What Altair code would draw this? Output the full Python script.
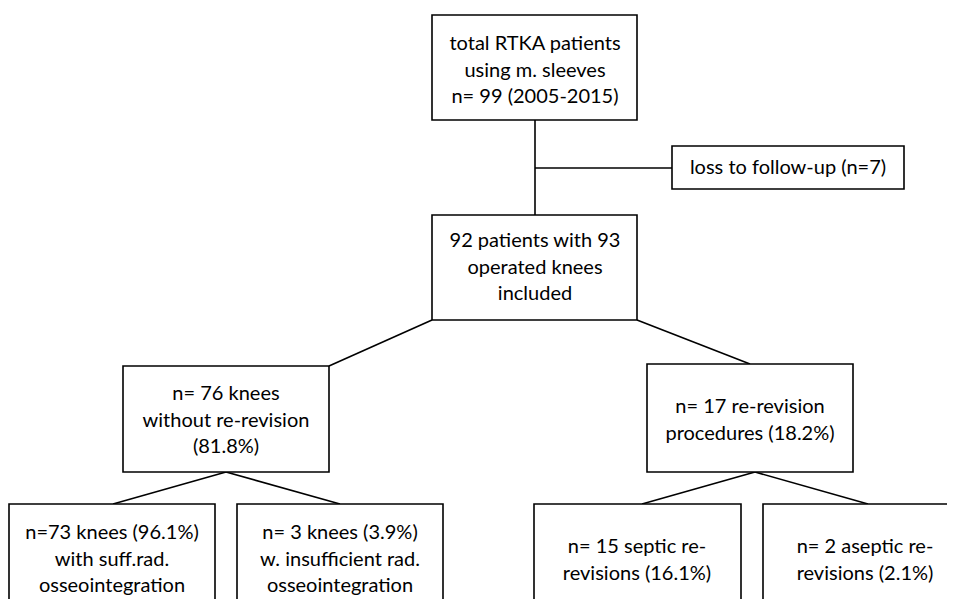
import altair as alt
import pandas as pd

# Box texts
box_labels = [
    "total RTKA patients\nusing m. sleeves\nn= 99 (2005-2015)",
    "92 patients with 93\noperated knees\nincluded",
    "loss to follow-up (n=7)",
    "n= 76 knees\nwithout re-revision\n(81.8%)",
    "n= 17 re-revision\nprocedures (18.2%)",
    "n=73 knees (96.1%)\nwith suff.rad.\nosseointegration",
    "n= 3 knees (3.9%)\nw. insufficient rad.\nosseointegration",
    "n= 15 septic re-\nrevisions (16.1%)",
    "n= 2 aseptic re-\nrevisions (2.1%)",
]

# Layout (pixel coordinates of the page)
box_x1 = [432, 432, 672, 123, 647, 9, 237, 534, 763]
box_y1 = [15, 215, 146, 366, 364, 504, 504, 504, 504]
box_x2 = [637, 637, 904, 329, 853, 215, 443, 741, 1000]
box_y2 = [120, 320, 189, 472, 472, 640, 640, 640, 640]
text_x = [535, 535, 788, 226, 750, 112, 340, 637, 865]
text_y = [44, 241, 168, 394, 407, 533, 533, 547, 547]  # first line

line_x1 = [535, 535, 432, 637, 226, 226, 755, 755]
line_y1 = [120, 168, 320, 320, 472, 472, 472, 472]
line_x2 = [535, 672, 329, 750, 113, 340, 642, 868]
line_y2 = [215, 168, 366, 364, 504, 504, 504, 504]

boxes = pd.DataFrame({"label": box_labels, "x1": box_x1, "y1": box_y1,
                      "x2": box_x2, "y2": box_y2, "tx": text_x, "ty": text_y})
lines = pd.DataFrame({"x1": line_x1, "y1": line_y1, "x2": line_x2, "y2": line_y2})

W, H = 939, 591
xs = alt.Scale(domain=[8, 8 + W])
ys = alt.Scale(domain=[8, 8 + H], reverse=True)

rules = alt.Chart(lines).mark_rule(color="black", strokeWidth=1.6, clip=True).encode(
    x=alt.X("x1:Q", scale=xs, axis=None),
    y=alt.Y("y1:Q", scale=ys, axis=None),
    x2="x2:Q", y2="y2:Q",
)

rects = alt.Chart(boxes).mark_rect(fill="white", stroke="black", strokeWidth=1.6, clip=True).encode(
    x=alt.X("x1:Q", scale=xs, axis=None),
    y=alt.Y("y1:Q", scale=ys, axis=None),
    x2="x2:Q", y2="y2:Q",
)

texts = alt.Chart(boxes).mark_text(
    font="Lato", fontSize=20, lineBreak="\n", lineHeight=26.5,
    align="center", baseline="middle", color="black"
).encode(
    x=alt.X("tx:Q", scale=xs, axis=None),
    y=alt.Y("ty:Q", scale=ys, axis=None),
    text="label:N",
)

chart = alt.layer(rules, rects, texts).properties(
    width=W, height=H, padding=0
).configure_view(stroke=None)

chart.save("out.html", embed_options={"renderer": "svg", "actions": False})
